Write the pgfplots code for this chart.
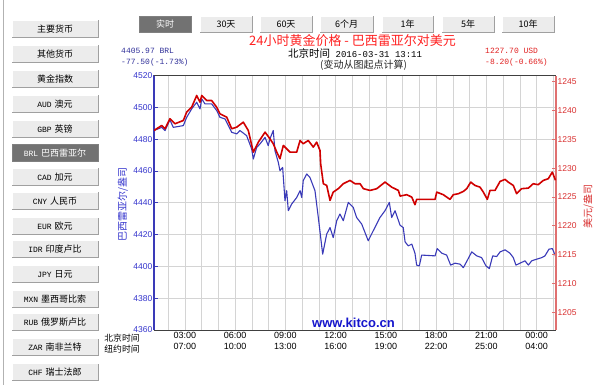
\documentclass[border=0pt]{standalone}
\usepackage{pgfplots}
\pgfplotsset{compat=1.18}
\usepackage{fontspec}
\setmainfont{Liberation Sans}
\newfontfamily\cjk{Noto Sans CJK SC}
\newfontfamily\mono{Liberation Mono}
\definecolor{bluel}{HTML}{3A3AB8}
\definecolor{redl}{HTML}{D00000}
\definecolor{bluet}{HTML}{3333CC}
\definecolor{redt}{HTML}{D83030}
\definecolor{redax}{HTML}{E07070}
\definecolor{gridc}{HTML}{D4D4D4}
\definecolor{btnsel}{HTML}{727272}
\definecolor{btnfill}{HTML}{ECECEC}
\definecolor{btnbd}{HTML}{A0A0A0}
\definecolor{valblue}{HTML}{303099}
\definecolor{valred}{HTML}{E02020}
\definecolor{ttl}{HTML}{FF2020}
\definecolor{wm}{HTML}{1515CC}
\newcommand\btn[5]{%
  \fill[btnfill] (#1,#2) rectangle (#3,#4);
  \draw[white, line width=1pt] (#1,#4) -- (#1,#2) -- (#3,#2);
  \draw[btnbd, line width=1pt] (#1,#4) -- (#3,#4) -- (#3,#2);
  \node[font=\cjk\fontsize{9}{10}\selectfont, text=black, inner sep=0pt] at ({(#1+#3)/2},{(#2+#4)/2}) {#5};}
\newcommand\btnS[5]{%
  \fill[btnsel] (#1,#2) rectangle (#3,#4);
  \draw[gray, line width=1pt] (#1,#2) rectangle (#3,#4);
  \node[font=\cjk\fontsize{9}{10}\selectfont, text=white, inner sep=0pt] at ({(#1+#3)/2},{(#2+#4)/2}) {#5};}
\newcommand\cd[1]{{\mono\fontsize{8}{9}\selectfont #1}\hspace{3pt}}
\begin{document}
\begin{tikzpicture}
\begin{scope}[x=1pt,y=-1pt]
\path (0,0) rectangle (600,384);
\draw[gray!60, line width=1pt] (3,0) -- (3,384);
% left buttons
\btn{12}{20}{98}{37}{主要货币}
\btn{12}{45}{98}{62}{其他货币}
\btn{12}{70}{98}{87}{黄金指数}
\btn{12}{95}{98}{112}{\cd{AUD}澳元}
\btn{12}{120}{98}{137}{\cd{GBP}英镑}
\btnS{12}{144}{98}{161}{\cd{BRL}巴西雷亚尔}
\btn{12}{168}{98}{185}{\cd{CAD}加元}
\btn{12}{192}{98}{209}{\cd{CNY}人民币}
\btn{12}{217}{98}{234}{\cd{EUR}欧元}
\btn{12}{240}{98}{257}{\cd{IDR}印度卢比}
\btn{12}{265}{98}{282}{\cd{JPY}日元}
\btn{12}{290}{98}{307}{\cd{MXN}墨西哥比索}
\btn{12}{313}{98}{330}{\cd{RUB}俄罗斯卢比}
\btn{12}{338}{98}{355}{\cd{ZAR}南非兰特}
\btn{12}{363}{98}{380}{\cd{CHF}瑞士法郎}
% top buttons
\btnS{139}{16}{191}{32}{实时}
\btn{200}{16}{252}{32}{30天}
\btn{260}{16}{312}{32}{60天}
\btn{320}{16}{373}{32}{6个月}
\btn{382}{16}{433}{32}{1年}
\btn{442}{16}{494}{32}{5年}
\btn{502}{16}{554}{32}{10年}
% header texts
\node[font=\cjk\fontsize{13}{14}\selectfont, text=ttl, inner sep=0pt] at (352.5,40.5) {24小时黄金价格 - 巴西雷亚尔对美元};
\node[anchor=west, inner sep=0pt, text=black] at (288,53.3) {{\cjk\fontsize{10.5}{12}\selectfont 北京时间}{\mono\fontsize{9}{10}\selectfont\ 2016-03-31 13:11}};
\node[font=\cjk\fontsize{10}{11}\selectfont, text=black!85, inner sep=0pt] at (363.5,65) {(变动从图起点计算)};
\node[anchor=west, inner sep=0pt, font=\mono\fontsize{8}{9}\selectfont, text=valblue] at (121,50.7) {4405.97 BRL};
\node[anchor=west, inner sep=0pt, font=\mono\fontsize{8}{9}\selectfont, text=valblue] at (121,61.7) {-77.50(-1.73\%)};
\node[anchor=west, inner sep=0pt, font=\mono\fontsize{8}{9}\selectfont, text=valred] at (485,50.7) {1227.70 USD};
\node[anchor=west, inner sep=0pt, font=\mono\fontsize{8}{9}\selectfont, text=valred] at (485,61.7) {-8.20(-0.66\%)};
\end{scope}

\begin{axis}[
  at={(154pt,-329.5pt)}, anchor=south west,
  scale only axis, width=402pt, height=254.5pt,
  xmin=1.15, xmax=25.15, ymin=4360, ymax=4520,
  axis y line*=left, axis x line*=bottom,
  ytick={4360,4380,...,4520},
  xtick={3,6,...,24},
  xticklabels={{03:00\\07:00},{06:00\\10:00},{09:00\\13:00},{12:00\\16:00},{15:00\\19:00},{18:00\\22:00},{21:00\\25:00},{00:00\\04:00}},
  minor xtick={2,...,25},
  grid=both,
  major grid style={gridc, line width=0.8pt},
  minor grid style={gridc, line width=0.8pt},
  tick align=inside,
  xtick style={draw=none},
  minor tick length=0pt,
  ytick style={bluel, line width=0.8pt},
  major tick length=4pt,
  y axis line style={bluel, line width=1.2pt},
  x axis line style={black!75, line width=1pt},
  scaled y ticks=false,
  /pgf/number format/assume math mode=true,
  /pgf/number format/set thousands separator={},
  yticklabel style={font=\fontsize{8.5}{10}\selectfont, text=bluet, inner sep=1.5pt},
  xticklabel style={font=\fontsize{9}{10.5}\selectfont, align=center, text=black, inner sep=2.5pt},
]
\addplot[bluel, line width=1.1pt, line join=round] table {
1.15 4485.4
1.61 4487.4
1.81 4485.4
2.10 4492.1
2.30 4487.4
2.90 4488.5
3.10 4493.7
3.40 4499.0
3.70 4503.2
3.90 4499.0
4.00 4505.3
4.19 4502.2
4.59 4502.2
4.89 4498.0
5.09 4493.7
5.39 4492.7
5.79 4484.3
6.09 4483.3
6.28 4485.4
6.68 4482.2
6.98 4473.8
7.08 4467.5
7.28 4474.8
7.48 4477.0
7.78 4481.1
7.97 4475.9
8.07 4480.1
8.27 4485.4
8.37 4472.8
8.57 4465.4
8.67 4460.2
8.83 4462.2
8.97 4441.3
9.07 4447.6
9.17 4435.0
9.37 4439.2
9.67 4443.3
9.87 4447.6
9.97 4443.3
10.06 4453.9
10.27 4458.1
10.46 4455.9
10.76 4447.6
10.96 4430.7
11.22 4407.7
11.46 4420.3
11.66 4424.4
11.85 4418.1
12.06 4428.7
12.25 4432.9
12.45 4428.7
12.75 4440.2
13.05 4437.0
13.25 4430.7
13.55 4426.6
13.94 4416.1
14.24 4422.4
14.64 4430.7
14.94 4435.0
15.20 4440.2
15.34 4430.7
15.54 4435.0
15.84 4425.9
16.03 4424.4
16.14 4415.4
16.33 4412.9
16.54 4414.0
16.73 4408.3
16.83 4400.8
16.99 4400.3
17.13 4407.1
17.93 4406.6
18.06 4411.2
18.33 4408.3
18.62 4407.1
18.86 4400.8
19.12 4402.0
19.42 4401.4
19.62 4399.2
19.91 4404.9
20.12 4409.1
20.42 4406.6
20.71 4405.5
20.97 4400.3
21.17 4398.6
21.37 4406.6
21.61 4406.2
21.81 4409.1
22.11 4410.4
22.40 4408.3
22.60 4405.5
22.76 4400.8
23.00 4402.0
23.30 4403.5
23.50 4400.8
23.70 4403.5
23.99 4404.5
24.30 4405.5
24.49 4406.6
24.73 4410.8
24.93 4411.2
25.12 4406.5
};
\draw[black!75, line width=1pt] (rel axis cs:0,1) -- (rel axis cs:1,1);
\end{axis}

\begin{axis}[
  at={(154pt,-329.5pt)}, anchor=south west,
  scale only axis, width=402pt, height=254.5pt,
  xmin=1.15, xmax=25.15, ymin=1201.97, ymax=1246.04,
  axis y line*=right, axis x line=none,
  ytick={1205,1210,...,1245},
  tick align=inside,
  major tick length=4pt,
  ytick style={redax, line width=0.8pt},
  y axis line style={redax, line width=1.6pt},
  scaled y ticks=false,
  /pgf/number format/assume math mode=true,
  /pgf/number format/set thousands separator={},
  yticklabel style={font=\fontsize{8.5}{10}\selectfont, text=redt, inner sep=1.5pt},
]
\addplot[redl, line width=1.6pt, line join=round] table {
1.15 1236.52
1.61 1237.39
1.81 1236.82
2.10 1238.55
2.40 1237.68
2.90 1238.25
3.10 1239.69
3.40 1240.56
3.70 1242.58
3.90 1241.42
4.00 1242.58
4.30 1241.71
4.59 1241.71
4.89 1240.56
5.09 1239.41
5.49 1238.83
5.79 1236.82
6.09 1237.10
6.48 1237.96
6.78 1236.52
7.08 1232.77
7.38 1234.50
7.78 1236.23
8.07 1235.09
8.27 1234.22
8.48 1232.77
8.67 1231.63
8.87 1233.93
9.27 1232.77
9.67 1232.77
9.87 1234.79
10.06 1234.22
10.36 1234.79
10.66 1233.64
10.86 1234.50
11.06 1233.06
11.10 1230.76
11.26 1227.30
11.46 1227.01
11.66 1224.41
11.85 1225.85
12.15 1226.44
12.45 1227.30
12.85 1227.87
13.15 1227.30
13.45 1227.30
13.65 1226.44
14.05 1226.14
14.45 1226.44
14.94 1227.58
15.34 1226.71
15.74 1226.14
15.84 1225.16
16.24 1225.40
16.54 1224.98
16.73 1223.67
16.83 1224.59
17.93 1224.59
18.03 1225.85
18.42 1225.40
18.82 1224.59
19.02 1225.40
19.32 1225.57
19.62 1225.97
19.82 1226.44
20.06 1227.58
20.31 1227.01
20.61 1226.71
20.81 1225.85
21.05 1224.59
21.21 1226.14
21.51 1226.14
21.81 1227.70
22.11 1228.05
22.30 1227.58
22.60 1227.01
22.80 1225.57
23.10 1226.44
23.50 1226.54
23.79 1227.30
24.09 1227.13
24.39 1227.87
24.69 1228.17
24.93 1229.31
25.12 1227.90
};
\end{axis}

\begin{scope}[x=1pt,y=-1pt]
\node[font=\bfseries\fontsize{13}{14}\selectfont, text=wm, inner sep=0pt] at (353.5,322.5) {www.kitco.cn};
\node[rotate=90, font=\cjk\fontsize{10}{11}\selectfont, text=bluet, inner sep=0pt] at (122.7,204) {巴西雷亚尔/盎司};
\node[rotate=90, font=\cjk\fontsize{10}{11}\selectfont, text=redt, inner sep=0pt] at (588.3,206) {美元/盎司};
\node[font=\cjk\fontsize{8.8}{10}\selectfont, text=black, inner sep=0pt] at (122,337.5) {北京时间};
\node[font=\cjk\fontsize{8.8}{10}\selectfont, text=black, inner sep=0pt] at (122,348.5) {纽约时间};
\end{scope}
\end{tikzpicture}
\end{document}
